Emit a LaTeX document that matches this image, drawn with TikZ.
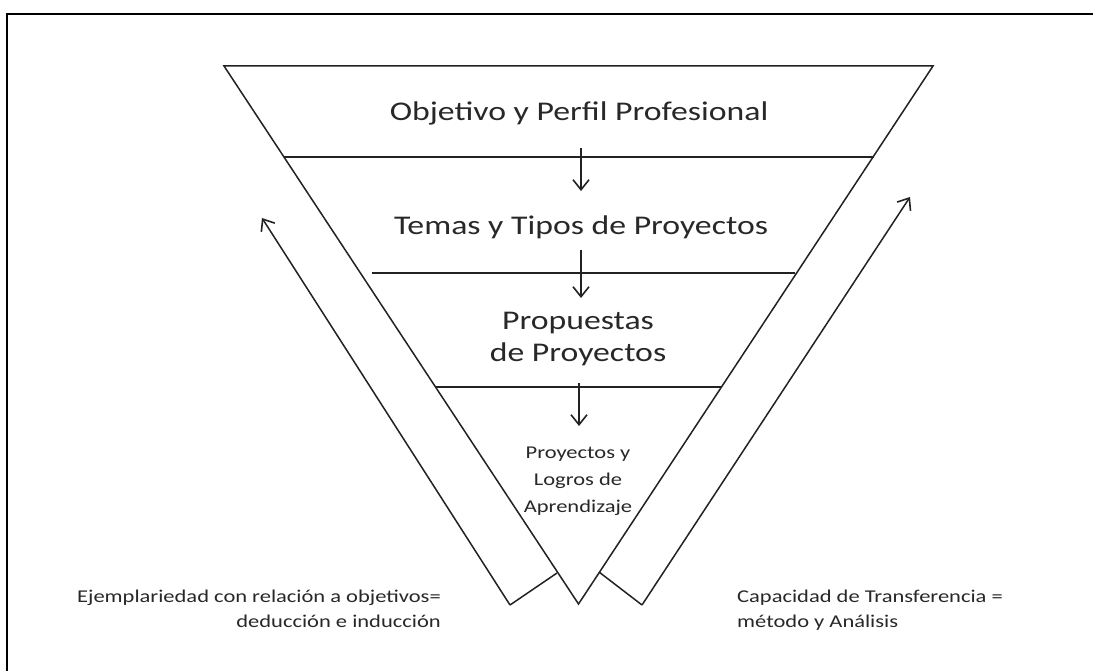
\documentclass[tikz,border=0pt]{standalone}
\usepackage{graphicx}
\usepackage{fontspec}
\setmainfont{Carlito}
\usetikzlibrary{arrows.meta}
\newcommand\hstretch[1]{\scalebox{1.25}[1]{#1}}
\definecolor{ink}{RGB}{34,34,34}
\definecolor{txt}{RGB}{40,40,40}
\tikzset{
  edge/.style={draw=ink, line width=1.5pt, line join=miter},
  frame/.style={draw=black, line width=2.2pt},
  flowarrow/.style={draw=ink, line width=1.5pt, -{Straight Barb[length=10pt,width=16pt,line width=1.6pt]}},
  bigtext/.style={text=txt, inner sep=0pt, font=\fontsize{27}{32}\selectfont},
  smalltext/.style={text=txt, inner sep=0pt, font=\fontsize{18}{27}\selectfont},
  notetext/.style={text=txt, inner sep=0pt, font=\fontsize{18}{25}\selectfont},
}
\begin{document}
\begin{tikzpicture}[x=1pt,y=-1pt]
\useasboundingbox (0,0) rectangle (1093,671);
\fill[white] (0,0) rectangle (1093,671);
% frame (left and top edges visible)
\draw[frame] (7,672) -- (7,14) -- (1094,14);

% funnel triangle
\coordinate (tl) at (224,66);
\coordinate (tr) at (933,66);
\coordinate (apex) at (578.5,604);
\draw[edge] (tl) -- (tr) -- (apex) -- cycle;

% level separators
\coordinate (l1a) at (284,157); \coordinate (l1b) at (874,157);
\coordinate (l2a) at (372,273); \coordinate (l2b) at (795,273);
\coordinate (l3a) at (436,387); \coordinate (l3b) at (721,387);
\draw[edge] (l1a) -- (l1b);
\draw[edge] (l2a) -- (l2b);
\draw[edge] (l3a) -- (l3b);

% texts
\node[bigtext, anchor=base] (obj) at (579,121) {\hstretch{Objetivo y Perfil Profesional}};
\node[bigtext, anchor=base] (temas) at (581,235) {\hstretch{Temas y Tipos de Proyectos}};
\node[bigtext, anchor=base] (prop) at (578,330) {\hstretch{\begin{tabular}[t]{@{}c@{}}Propuestas\\de Proyectos\end{tabular}}};
\node[smalltext, anchor=base] (proy) at (578,458) {\hstretch{\begin{tabular}[t]{@{}c@{}}Proyectos y\\Logros de\\Aprendizaje\end{tabular}}};
\node[notetext, anchor=base east] (ejem) at (441,602) {\hstretch{\begin{tabular}[t]{@{}r@{}}Ejemplariedad con relación a objetivos=\\deducción e inducción\end{tabular}}};
\node[notetext, anchor=base west] (capa) at (737,602) {\hstretch{\begin{tabular}[t]{@{}l@{}}Capacidad de Transferencia =\\método y Análisis\end{tabular}}};

% downward arrows
\coordinate (d1s) at (581,148); \coordinate (d1e) at (581,191);
\coordinate (d2s) at (581,250); \coordinate (d2e) at (581,298);
\coordinate (d3s) at (579,383); \coordinate (d3e) at (579,426);
\draw[flowarrow] (d1s) -- (d1e);
\draw[flowarrow] (d2s) -- (d2e);
\draw[flowarrow] (d3s) -- (d3e);

% side bands with upward arrows
\coordinate (lb) at (510,605);
\coordinate (lj) at (557,573);
\coordinate (ltip) at (262,218);
\draw[edge] (lj) -- (lb);
\draw[flowarrow] (lb) -- (ltip);

\coordinate (rb) at (642,605);
\coordinate (rj) at (599,572);
\coordinate (rtip) at (910,197);
\draw[edge] (rj) -- (rb);
\draw[flowarrow] (rb) -- (rtip);
\end{tikzpicture}
\end{document}
